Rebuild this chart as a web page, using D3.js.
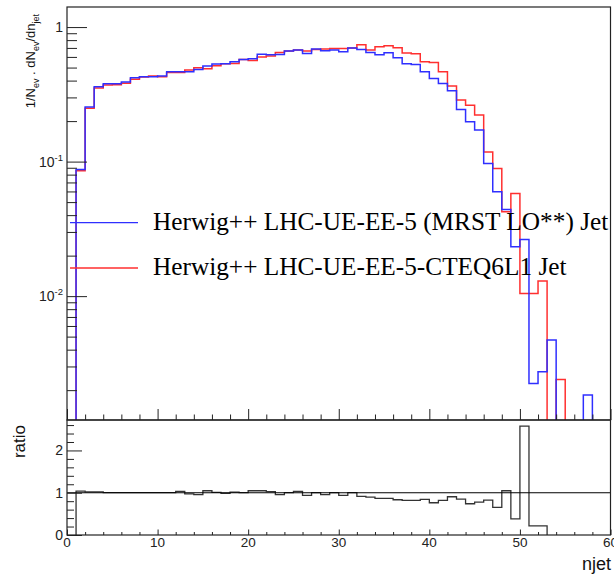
<!DOCTYPE html>
<html>
<head>
<meta charset="utf-8">
<script src="https://cdn.jsdelivr.net/npm/d3@7"></script>
<style>
body { margin: 0; background: #fff; }
svg { display: block; }
</style>
</head>
<body>
<div id="plot"></div>
<script>
// lower bin edge (njet), bins have width 1
var njet = [1,2,3,4,5,6,7,8,9,10,11,12,13,14,15,16,17,18,19,20,
  21,22,23,24,25,26,27,28,29,30,31,32,33,34,35,36,37,38,39,40,
  41,42,43,44,45,46,47,48,49,50,51,52,53,54,55,56,57];

// Herwig++ LHC-UE-EE-5 (MRST LO**)  - blue
var mrst = [0.0875,0.255,0.360,0.379,0.379,0.390,0.420,0.428,0.428,0.432,
  0.466,0.466,0.466,0.484,0.513,0.531,0.533,0.552,0.575,0.581,
  0.627,0.622,0.626,0.663,0.675,0.637,0.686,0.667,0.675,0.656,
  0.698,0.680,0.648,0.623,0.645,0.591,0.534,0.528,0.466,0.415,
  0.381,0.336,0.244,0.198,0.1715,0.0969,0.0597,0.0441,0.0233,0.0264,
  0.00224,0.00274,0.00471,0,0,0,0.00184];

// Herwig++ LHC-UE-EE-5-CTEQ6L1  - red
var cteq = [0.0855,0.249,0.352,0.371,0.372,0.383,0.410,0.426,0.432,0.428,
  0.460,0.460,0.479,0.499,0.490,0.516,0.533,0.536,0.575,0.565,
  0.598,0.609,0.648,0.663,0.675,0.663,0.682,0.686,0.694,0.694,
  0.698,0.739,0.675,0.714,0.727,0.702,0.641,0.634,0.552,0.546,
  0.466,0.364,0.287,0.262,0.222,0.118,0.089,0.0423,0.058,0.01047,
  0.01047,0.01293,0,0.0024,0,0,0];

// ratio panel, bins 1..53
var ratio = [1.04,1.02,1.02,1.0,1.0,1.0,1.0,1.0,1.0,1.0,
  1.0,1.03,0.975,0.955,1.047,1.008,0.984,1.016,1.0,1.047,
  1.047,1.024,0.953,1.0,1.03,0.937,1.0,0.953,1.0,0.937,
  1.0,0.913,0.897,0.866,0.866,0.834,0.818,0.818,0.842,0.763,
  0.818,0.905,0.85,0.739,0.779,0.826,0.652,1.047,0.383,2.573,
  0.217,0.217,0];

var xTicks = [0,10,20,30,40,50,60];
var xMinor = [2,4,6,8,12,14,16,18,22,24,26,28,32,34,36,38,42,44,46,48,52,54,56,58];
var yMajor = [1, 0.1, 0.01];
var yLabels = [["1",""],["10","-1"],["10","-2"]];
var yMinor = [0.002,0.003,0.004,0.005,0.006,0.007,0.008,0.009,
  0.02,0.03,0.04,0.05,0.06,0.07,0.08,0.09,0.2,0.3,0.4,0.5,0.6,0.7,0.8,0.9];
var rMajor = [0,1,2];
var rMinor = [0.2,0.4,0.6,0.8,1.2,1.4,1.6,1.8,2.2,2.4,2.6];
var legendLabels = ["Herwig++ LHC-UE-EE-5 (MRST LO**) Jet", "Herwig++ LHC-UE-EE-5-CTEQ6L1 Jet"];
var legendColors = ["#2f2fff", "#ff2f2f"];

var W = 614, H = 575;
var padL = 67, padR = 610.5, padT = 7, padM = 420, padB = 535;
var sans = "'Liberation Sans', Arial, sans-serif";

var svg = d3.select("#plot").append("svg").attr("width", W).attr("height", H);
svg.append("rect").attr("width", W).attr("height", H).attr("fill", "#fff");

var x = d3.scaleLinear().domain([0, 60]).range([padL, padR]);
var y = d3.scaleLog().domain([0.0012, 1.41]).range([padM, padT]);
var yr = d3.scaleLinear().domain([0, 2.72]).range([padB, padM]);

svg.append("clipPath").attr("id", "clipTop").append("rect")
  .attr("x", padL).attr("y", padT).attr("width", padR - padL).attr("height", padM - padT);
svg.append("clipPath").attr("id", "clipBot").append("rect")
  .attr("x", padL).attr("y", padM).attr("width", padR - padL).attr("height", padB - padM);

function steps(vals, ys, floor) {
  var pts = [[x(njet[0]), floor]];
  vals.forEach(function(v, i) {
    var yy = v > 0 ? ys(v) : floor;
    pts.push([x(njet[i]), yy]);
    pts.push([x(njet[i] + 1), yy]);
  });
  pts.push([x(njet[vals.length - 1] + 1), floor]);
  return d3.line()(pts);
}

// histograms
var gTop = svg.append("g").attr("clip-path", "url(#clipTop)");
gTop.append("path").attr("d", steps(cteq, y, padM + 2))
  .attr("fill", "none").attr("stroke", legendColors[1]).attr("stroke-width", 1.5);
gTop.append("path").attr("d", steps(mrst, y, padM + 2))
  .attr("fill", "none").attr("stroke", legendColors[0]).attr("stroke-width", 1.5);

var gBot = svg.append("g").attr("clip-path", "url(#clipBot)");
gBot.append("path").attr("d", steps(ratio, yr, padB + 2))
  .attr("fill", "none").attr("stroke", "#333").attr("stroke-width", 1.3);
gBot.append("line").attr("x1", padL).attr("x2", padR).attr("y1", yr(1)).attr("y2", yr(1))
  .attr("stroke", "#000").attr("stroke-width", 1.1);

// axes ticks (inward)
function ticks(axis) {
  return function(g) {
    g.call(axis);
    g.select(".domain").remove();
    g.selectAll("line").attr("stroke", "#222").attr("stroke-width", 1);
  };
}
svg.append("g").attr("transform", "translate(" + padL + ",0)")
  .call(ticks(d3.axisLeft(y).tickValues(yMajor).tickSize(-20).tickFormat("")));
svg.append("g").attr("transform", "translate(" + padL + ",0)")
  .call(ticks(d3.axisLeft(y).tickValues(yMinor).tickSize(-10).tickFormat("")));
svg.append("g").attr("transform", "translate(" + padL + ",0)")
  .call(ticks(d3.axisLeft(yr).tickValues(rMajor).tickSize(-15).tickFormat("")));
svg.append("g").attr("transform", "translate(" + padL + ",0)")
  .call(ticks(d3.axisLeft(yr).tickValues(rMinor).tickSize(-7).tickFormat("")));
svg.append("g").attr("transform", "translate(0," + padM + ")")
  .call(ticks(d3.axisBottom(x).tickValues(xTicks).tickSize(-11).tickFormat("")));
svg.append("g").attr("transform", "translate(0," + padM + ")")
  .call(ticks(d3.axisBottom(x).tickValues(xMinor).tickSize(-5.5).tickFormat("")));
svg.append("g").attr("transform", "translate(0," + padB + ")")
  .call(ticks(d3.axisBottom(x).tickValues(xTicks).tickSize(-5.5).tickFormat("")));
svg.append("g").attr("transform", "translate(0," + padB + ")")
  .call(ticks(d3.axisBottom(x).tickValues(xMinor).tickSize(-3).tickFormat("")));

// frames
[[padT, padM], [padM, padB]].forEach(function(p) {
  svg.append("rect").attr("x", padL).attr("y", p[0])
    .attr("width", padR - padL).attr("height", p[1] - p[0])
    .attr("fill", "none").attr("stroke", "#222").attr("stroke-width", 1.2);
});

// tick labels
yMajor.forEach(function(v, i) {
  var t = svg.append("text").attr("x", 63).attr("y", y(v) + 5)
    .attr("text-anchor", "end").attr("font-family", sans).attr("font-size", 14).attr("fill", "#222");
  t.append("tspan").text(yLabels[i][0]);
  if (yLabels[i][1]) t.append("tspan").attr("dy", -6).attr("font-size", 9.5).text(yLabels[i][1]);
});
rMajor.forEach(function(v) {
  svg.append("text").attr("x", 63).attr("y", yr(v) + 5)
    .attr("text-anchor", "end").attr("font-family", sans).attr("font-size", 14).attr("fill", "#222")
    .text(v);
});
xTicks.forEach(function(v) {
  svg.append("text").attr("x", x(v)).attr("y", 547)
    .attr("text-anchor", "middle").attr("font-family", sans).attr("font-size", 13.5).attr("fill", "#222")
    .text(v);
});

// axis titles
var yt = svg.append("text").attr("transform", "translate(35,14) rotate(-90)")
  .attr("text-anchor", "end").attr("font-family", sans).attr("font-size", 13).attr("fill", "#111");
yt.append("tspan").text("1/N");
yt.append("tspan").attr("dy", 4).attr("font-size", 9).text("ev");
yt.append("tspan").attr("dy", -4).text(" . dN");
yt.append("tspan").attr("dy", 4).attr("font-size", 9).text("ev");
yt.append("tspan").attr("dy", -4).text("/dn");
yt.append("tspan").attr("dy", 4).attr("font-size", 9).text("jet");

svg.append("text").attr("transform", "translate(25,425) rotate(-90)")
  .attr("text-anchor", "end").attr("font-family", sans).attr("font-size", 17).attr("fill", "#111")
  .text("ratio");
svg.append("text").attr("x", 611).attr("y", 570)
  .attr("text-anchor", "end").attr("font-family", sans).attr("font-size", 18).attr("fill", "#111")
  .text("njet");

// legend
var legY = [222.7, 268];
legendLabels.forEach(function(lab, i) {
  svg.append("line").attr("x1", 70).attr("x2", 138).attr("y1", legY[i]).attr("y2", legY[i])
    .attr("stroke", legendColors[i]).attr("stroke-width", 1.3);
  svg.append("text").attr("x", 153).attr("y", legY[i] + 7)
    .attr("font-family", "'Liberation Serif', 'Times New Roman', serif").attr("font-size", 25.3)
    .attr("fill", "#000").text(lab);
});
</script>
</body>
</html>
